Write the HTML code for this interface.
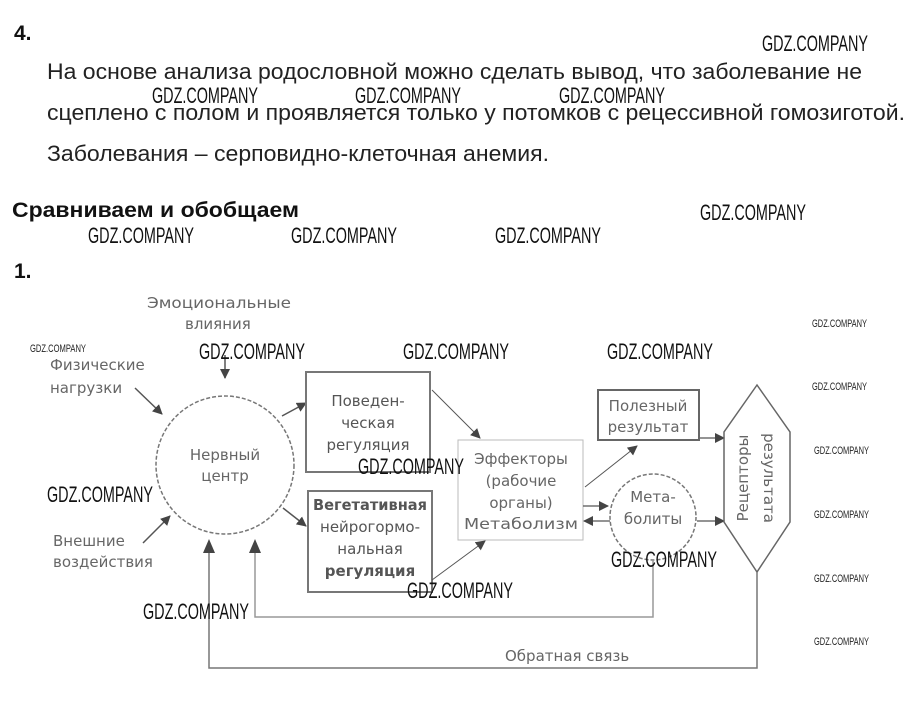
<!DOCTYPE html>
<html><head><meta charset="utf-8"><style>
html,body{margin:0;padding:0;background:#fff;width:912px;height:703px;overflow:hidden}
svg{display:block}
.t{font-family:"Liberation Sans Narrow","Liberation Sans",sans-serif;fill:#222;font-size:22px}
.b{font-family:"Liberation Sans Narrow","Liberation Sans",sans-serif;fill:#111;font-size:21px;font-weight:bold}
.w{font-family:"Liberation Sans Narrow","Liberation Sans",sans-serif;fill:#111;font-size:22px}
.ws{font-family:"Liberation Sans Narrow","Liberation Sans",sans-serif;fill:#222;font-size:11px}
.d{font-family:"DejaVu Sans","Liberation Sans",sans-serif;fill:#666;font-size:15px}
.db{font-family:"DejaVu Sans","Liberation Sans",sans-serif;fill:#555;font-size:15px}
</style></head><body>
<svg width="912" height="703" viewBox="0 0 912 703" xmlns="http://www.w3.org/2000/svg">
<defs>
<marker id="a" markerWidth="10" markerHeight="10" refX="9" refY="5" orient="auto" markerUnits="userSpaceOnUse" viewBox="0 0 10 10"><path d="M0,0 L10,5 L0,10 Z" fill="#444"/></marker>
</defs>
<text class="b" x="14" y="40">4.</text>
<text class="w" x="762" y="51" textLength="106" lengthAdjust="spacingAndGlyphs">GDZ.COMPANY</text>
<text class="t" x="47" y="79" textLength="815" lengthAdjust="spacingAndGlyphs">На основе анализа родословной можно сделать вывод, что заболевание не</text>
<text class="w" x="152" y="103" textLength="106" lengthAdjust="spacingAndGlyphs">GDZ.COMPANY</text>
<text class="w" x="355" y="103" textLength="106" lengthAdjust="spacingAndGlyphs">GDZ.COMPANY</text>
<text class="w" x="559" y="103" textLength="106" lengthAdjust="spacingAndGlyphs">GDZ.COMPANY</text>
<text class="t" x="47" y="120" textLength="858" lengthAdjust="spacingAndGlyphs">сцеплено с полом и проявляется только у потомков с рецессивной гомозиготой.</text>
<text class="t" x="47" y="161" textLength="502" lengthAdjust="spacingAndGlyphs">Заболевания – серповидно-клеточная анемия.</text>
<text class="b" x="12" y="217" textLength="287" lengthAdjust="spacingAndGlyphs">Сравниваем и обобщаем</text>
<text class="w" x="700" y="220" textLength="106" lengthAdjust="spacingAndGlyphs">GDZ.COMPANY</text>
<text class="w" x="88" y="243" textLength="106" lengthAdjust="spacingAndGlyphs">GDZ.COMPANY</text>
<text class="w" x="291" y="243" textLength="106" lengthAdjust="spacingAndGlyphs">GDZ.COMPANY</text>
<text class="w" x="495" y="243" textLength="106" lengthAdjust="spacingAndGlyphs">GDZ.COMPANY</text>
<text class="b" x="14" y="278">1.</text>

<text class="d" x="147" y="308" textLength="144" lengthAdjust="spacingAndGlyphs">Эмоциональные</text>
<text class="d" x="185" y="329" font-size="12">влияния</text>
<text class="d" x="50" y="370">Физические</text>
<text class="d" x="50" y="393">нагрузки</text>
<text class="d" x="53" y="546">Внешние</text>
<text class="d" x="53" y="567">воздействия</text>

<line x1="225" y1="355" x2="225" y2="378" stroke="#555" stroke-width="1.5" marker-end="url(#a)"/>
<line x1="135" y1="388" x2="162" y2="414" stroke="#555" stroke-width="1.5" marker-end="url(#a)"/>
<line x1="143" y1="543" x2="170" y2="516" stroke="#555" stroke-width="1.5" marker-end="url(#a)"/>

<circle cx="225" cy="465" r="69" fill="none" stroke="#777" stroke-width="1.5" stroke-dasharray="4,2"/>
<text class="d" x="225" y="460" text-anchor="middle">Нервный</text>
<text class="d" x="225" y="481" text-anchor="middle">центр</text>

<line x1="282" y1="416" x2="306" y2="403" stroke="#555" stroke-width="1.5" marker-end="url(#a)"/>
<line x1="283" y1="508" x2="306" y2="526" stroke="#555" stroke-width="1.5" marker-end="url(#a)"/>

<rect x="306" y="372" width="124" height="100" fill="none" stroke="#777" stroke-width="2"/>
<text class="db" x="368" y="406" text-anchor="middle">Поведен-</text>
<text class="db" x="368" y="428" text-anchor="middle">ческая</text>
<text class="db" x="368" y="450" text-anchor="middle">регуляция</text>

<rect x="308" y="491" width="124" height="101" fill="none" stroke="#777" stroke-width="2"/>
<text class="db" x="370" y="510" text-anchor="middle" font-weight="bold" textLength="114" lengthAdjust="spacingAndGlyphs">Вегетативная</text>
<text class="db" x="370" y="532" text-anchor="middle">нейрогормо-</text>
<text class="db" x="370" y="554" text-anchor="middle">нальная</text>
<text class="db" x="370" y="576" text-anchor="middle" font-weight="bold">регуляция</text>

<line x1="432" y1="390" x2="480" y2="438" stroke="#555" stroke-width="1" marker-end="url(#a)"/>
<line x1="432" y1="580" x2="485" y2="541" stroke="#555" stroke-width="1" marker-end="url(#a)"/>

<rect x="458" y="440" width="125" height="100" fill="none" stroke="#bbb" stroke-width="1"/>
<text class="d" x="521" y="464" text-anchor="middle" font-size="16">Эффекторы</text>
<text class="d" x="521" y="486" text-anchor="middle" font-size="16">(рабочие</text>
<text class="d" x="521" y="508" text-anchor="middle" font-size="16">органы)</text>
<text class="d" x="521" y="529" text-anchor="middle" font-size="16" textLength="114" lengthAdjust="spacingAndGlyphs">Метаболизм</text>

<line x1="585" y1="487" x2="637" y2="446" stroke="#555" stroke-width="1" marker-end="url(#a)"/>
<line x1="583" y1="506" x2="608" y2="506" stroke="#555" stroke-width="1.2" marker-end="url(#a)"/>
<line x1="610" y1="521" x2="584" y2="521" stroke="#555" stroke-width="1.2" marker-end="url(#a)"/>

<rect x="598" y="390" width="101" height="50" fill="none" stroke="#666" stroke-width="2"/>
<text class="d" x="648" y="411" text-anchor="middle">Полезный</text>
<text class="d" x="648" y="432" text-anchor="middle">результат</text>

<circle cx="653" cy="517" r="43" fill="none" stroke="#777" stroke-width="1.5" stroke-dasharray="4,2"/>
<text class="d" x="653" y="502" text-anchor="middle">Мета-</text>
<text class="d" x="653" y="524" text-anchor="middle">болиты</text>

<line x1="700" y1="438" x2="724" y2="438" stroke="#555" stroke-width="1.2" marker-end="url(#a)"/>
<line x1="697" y1="521" x2="724" y2="521" stroke="#555" stroke-width="1.2" marker-end="url(#a)"/>

<polygon points="757,385 790,432 790,522 757,572 724,522 724,432" fill="none" stroke="#666" stroke-width="1.5"/>
<text class="d" transform="translate(748,478) rotate(-90)" text-anchor="middle">Рецепторы</text>
<text class="d" transform="translate(764,478) rotate(90)" text-anchor="middle">результата</text>

<polyline points="653,560 653,617 255,617 255,550" fill="none" stroke="#999" stroke-width="1.5"/>
<path d="M249,553 L255,539 L261,553 Z" fill="#444"/>
<polyline points="757,572 757,668 209,668 209,550" fill="none" stroke="#777" stroke-width="1.5"/>
<path d="M203,553 L209,539 L215,553 Z" fill="#444"/>
<text class="d" x="505" y="661">Обратная связь</text>

<text class="ws" x="30" y="352" textLength="56" lengthAdjust="spacingAndGlyphs">GDZ.COMPANY</text>
<text class="w" x="199" y="359" textLength="106" lengthAdjust="spacingAndGlyphs">GDZ.COMPANY</text>
<text class="w" x="403" y="359" textLength="106" lengthAdjust="spacingAndGlyphs">GDZ.COMPANY</text>
<text class="w" x="607" y="359" textLength="106" lengthAdjust="spacingAndGlyphs">GDZ.COMPANY</text>
<text class="w" x="358" y="474" textLength="106" lengthAdjust="spacingAndGlyphs">GDZ.COMPANY</text>
<text class="w" x="47" y="502" textLength="106" lengthAdjust="spacingAndGlyphs">GDZ.COMPANY</text>
<text class="w" x="611" y="567" textLength="106" lengthAdjust="spacingAndGlyphs">GDZ.COMPANY</text>
<text class="w" x="407" y="598" textLength="106" lengthAdjust="spacingAndGlyphs">GDZ.COMPANY</text>
<text class="w" x="143" y="619" textLength="106" lengthAdjust="spacingAndGlyphs">GDZ.COMPANY</text>
<text class="ws" x="812" y="327" textLength="55" lengthAdjust="spacingAndGlyphs">GDZ.COMPANY</text>
<text class="ws" x="812" y="390" textLength="55" lengthAdjust="spacingAndGlyphs">GDZ.COMPANY</text>
<text class="ws" x="814" y="454" textLength="55" lengthAdjust="spacingAndGlyphs">GDZ.COMPANY</text>
<text class="ws" x="814" y="518" textLength="55" lengthAdjust="spacingAndGlyphs">GDZ.COMPANY</text>
<text class="ws" x="814" y="582" textLength="55" lengthAdjust="spacingAndGlyphs">GDZ.COMPANY</text>
<text class="ws" x="814" y="645" textLength="55" lengthAdjust="spacingAndGlyphs">GDZ.COMPANY</text>
</svg>
</body></html>
